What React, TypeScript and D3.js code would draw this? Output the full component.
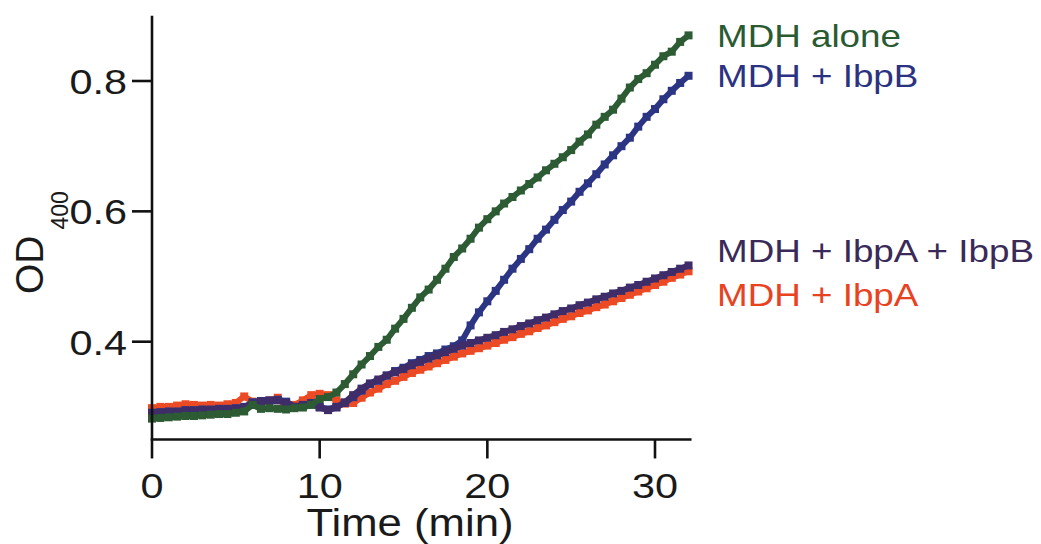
import React from "react";
import * as d3 from "d3";

const times: number[] = d3.range(0, 32.01, 0.5);

const mdhAlone: number[] = [
  0.282, 0.283, 0.284, 0.285, 0.286, 0.286, 0.287, 0.288, 0.289, 0.289,
  0.291, 0.293, 0.303, 0.297, 0.298, 0.297, 0.296, 0.298, 0.299, 0.303,
  0.312, 0.315, 0.322, 0.335, 0.350, 0.365, 0.378, 0.392, 0.403, 0.420,
  0.435, 0.452, 0.468, 0.480, 0.495, 0.512, 0.530, 0.543, 0.558, 0.575,
  0.588, 0.600, 0.612, 0.622, 0.632, 0.642, 0.652, 0.663, 0.673, 0.683,
  0.694, 0.707, 0.718, 0.733, 0.745, 0.756, 0.773, 0.790, 0.803, 0.812,
  0.825, 0.838, 0.845, 0.860, 0.870,
];

const mdhIbpB: number[] = [
  0.291, 0.292, 0.293, 0.293, 0.295, 0.295, 0.296, 0.296, 0.297, 0.297,
  0.298, 0.300, 0.307, 0.309, 0.310, 0.311, 0.308, 0.300, 0.303, 0.306,
  0.300, 0.296, 0.300, 0.306, 0.315, 0.325, 0.335, 0.340, 0.348, 0.355,
  0.360, 0.367, 0.372, 0.378, 0.382, 0.388, 0.393, 0.402, 0.425, 0.445,
  0.462, 0.478, 0.495, 0.512, 0.527, 0.542, 0.558, 0.572, 0.587, 0.602,
  0.615, 0.630, 0.643, 0.657, 0.672, 0.686, 0.700, 0.713, 0.730, 0.745,
  0.757, 0.772, 0.785, 0.797, 0.808,
];

const mdhIbpAB: number[] = [
  0.290, 0.291, 0.292, 0.292, 0.294, 0.294, 0.295, 0.295, 0.296, 0.296,
  0.297, 0.299, 0.305, 0.308, 0.309, 0.310, 0.306, 0.300, 0.302, 0.305,
  0.299, 0.295, 0.299, 0.307, 0.318, 0.328, 0.336, 0.342, 0.348, 0.353,
  0.358, 0.364, 0.369, 0.374, 0.379, 0.384, 0.389, 0.394, 0.398, 0.402,
  0.406, 0.410, 0.415, 0.419, 0.424, 0.428, 0.433, 0.437, 0.442, 0.447,
  0.451, 0.456, 0.460, 0.465, 0.469, 0.474, 0.478, 0.483, 0.487, 0.492,
  0.497, 0.502, 0.507, 0.512, 0.517,
];

const mdhIbpA: number[] = [
  0.298, 0.300, 0.300, 0.302, 0.304, 0.303, 0.302, 0.303, 0.302, 0.304,
  0.306, 0.316, 0.308, 0.309, 0.310, 0.314, 0.300, 0.303, 0.310, 0.318,
  0.320, 0.318, 0.310, 0.305, 0.306, 0.314, 0.322, 0.328, 0.335, 0.340,
  0.346, 0.352, 0.357, 0.362, 0.367, 0.372, 0.377, 0.382, 0.386, 0.390,
  0.394, 0.398, 0.403, 0.407, 0.412, 0.416, 0.421, 0.425, 0.430, 0.435,
  0.439, 0.444, 0.448, 0.453, 0.457, 0.462, 0.467, 0.472, 0.477, 0.482,
  0.487, 0.492, 0.498, 0.503, 0.508,
];

const seriesNames: string[] = ["MDH + IbpA", "MDH + IbpB", "MDH + IbpA + IbpB", "MDH alone"];
const seriesValues: number[][] = [mdhIbpA, mdhIbpB, mdhIbpAB, mdhAlone];
const seriesColors: string[] = ["#ec4a24", "#2c3584", "#3f2d6a", "#2c5b34"];

const legendNames: string[] = ["MDH alone", "MDH + IbpB", "MDH + IbpA + IbpB", "MDH + IbpA"];
const legendColors: string[] = ["#2a5a31", "#2c3282", "#3a2a58", "#e8421f"];
const legendBaselines: number[] = [47, 87, 262, 306];

const xTicks: number[] = [0, 10, 20, 30];
const yTicks: number[] = [0.4, 0.6, 0.8];

export default function App() {
  const x = d3.scaleLinear().domain([0, 30]).range([152, 655]);
  const y = d3.scaleLinear().domain([0.4, 0.8]).range([341.7, 81]);
  const xEnd = x(32.18);
  const yBottom = y(0.25);
  const yTop = y(0.9);
  const font = "'Liberation Sans', Arial, Helvetica, sans-serif";
  const sx = 1.15;

  const line = d3
    .line<number>()
    .x((_, i) => x(times[i]))
    .y((v) => y(v));

  const sq = 8;

  return (
    <svg
      width={1041}
      height={544}
      style={{ position: "absolute", left: 0, top: 0, background: "#fff" }}
      fontFamily={font}
    >
      <rect x={0} y={0} width={1041} height={544} fill="#fff" />
      {seriesValues.map((vals, si) => (
        <g key={seriesNames[si]}>
          <path
            d={line(vals) || ""}
            fill="none"
            stroke={seriesColors[si]}
            strokeWidth={6}
            strokeLinejoin="round"
          />
          {vals.map((v, i) => (
            <rect
              key={i}
              x={x(times[i]) - sq / 2}
              y={y(v) - sq / 2}
              width={sq}
              height={sq}
              fill={seriesColors[si]}
            />
          ))}
        </g>
      ))}

      {/* axes */}
      <line x1={x(0)} x2={x(0)} y1={yTop} y2={yBottom} stroke="#111" strokeWidth={2.6} />
      <line x1={x(0) - 1.3} x2={xEnd} y1={yBottom} y2={yBottom} stroke="#111" strokeWidth={2.6} />
      {yTicks.map((t) => (
        <g key={t}>
          <line x1={x(0) - 20} x2={x(0)} y1={y(t)} y2={y(t)} stroke="#111" strokeWidth={2.6} />
          <text
            transform={`translate(127,${y(t) + 13}) scale(${sx},1)`}
            textAnchor="end"
            fontSize={36}
            fill="#1a1a1a"
          >
            {t.toFixed(1)}
          </text>
        </g>
      ))}
      {xTicks.map((t) => (
        <g key={t}>
          <line x1={x(t)} x2={x(t)} y1={yBottom} y2={yBottom + 19} stroke="#111" strokeWidth={2.6} />
          <text
            transform={`translate(${x(t)},498) scale(${sx},1)`}
            textAnchor="middle"
            fontSize={36}
            fill="#1a1a1a"
          >
            {t}
          </text>
        </g>
      ))}
      <text
        transform={`translate(410,536) scale(${sx},1)`}
        textAnchor="middle"
        fontSize={38}
        fill="#1a1a1a"
      >
        Time (min)
      </text>
      <text transform="translate(43,294) rotate(-90)" fontSize={39} fill="#1a1a1a">
        OD
        <tspan fontSize={23} dx={6} dy={25}>
          400
        </tspan>
      </text>

      {legendNames.map((n, i) => (
        <text
          key={n}
          transform={`translate(717,${legendBaselines[i]}) scale(${sx},1)`}
          fontSize={32}
          fill={legendColors[i]}
        >
          {n}
        </text>
      ))}
    </svg>
  );
}
